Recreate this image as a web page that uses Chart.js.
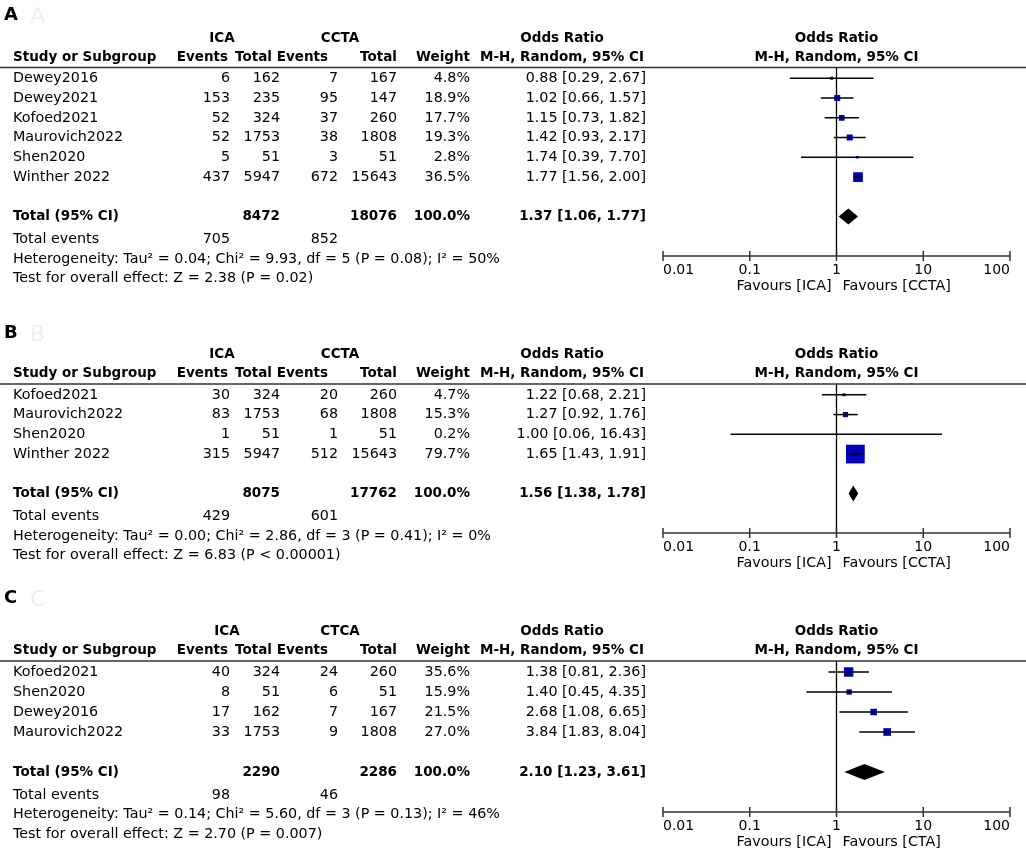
<!DOCTYPE html>
<html>
<head>
<meta charset="utf-8">
<script src="https://cdn.jsdelivr.net/npm/chart.js@4.4.0/dist/chart.umd.min.js"></script>
<style>
  body { margin: 0; background: #fff; width: 1026px; height: 851px; position: relative; overflow: hidden; }
  canvas { position: absolute; left: 0; }
</style>
</head>
<body>
<canvas id="panelA" width="1026" height="318" style="top:0px"></canvas>
<canvas id="panelB" width="1026" height="265" style="top:318px"></canvas>
<canvas id="panelC" width="1026" height="268" style="top:583px"></canvas>
<script>
// axis ticks shared by the three plots
const xTicks = [0.01, 0.1, 1, 10, 100];

// A
const studiesA = ["Dewey2016", "Dewey2021", "Kofoed2021", "Maurovich2022", "Shen2020", "Winther 2022"];
const icaEventsA = [6, 153, 52, 52, 5, 437];
const icaTotalA = [162, 235, 324, 1753, 51, 5947];
const ctEventsA = [7, 95, 37, 38, 3, 672];
const ctTotalA = [167, 147, 260, 1808, 51, 15643];
const weightA = [4.8, 18.9, 17.7, 19.3, 2.8, 36.5];
const orA = [0.88, 1.02, 1.15, 1.42, 1.74, 1.77];
const lowA = [0.29, 0.66, 0.73, 0.93, 0.39, 1.56];
const highA = [2.67, 1.57, 1.82, 2.17, 7.70, 2.00];
const sumTotalsA = [8472, 18076];
const sumEventsA = [705, 852];
const pooledA = [1.37, 1.06, 1.77];
const hetA = "Heterogeneity: Tau² = 0.04; Chi² = 9.93, df = 5 (P = 0.08); I² = 50%";
const testA = "Test for overall effect: Z = 2.38 (P = 0.02)";

// B
const studiesB = ["Kofoed2021", "Maurovich2022", "Shen2020", "Winther 2022"];
const icaEventsB = [30, 83, 1, 315];
const icaTotalB = [324, 1753, 51, 5947];
const ctEventsB = [20, 68, 1, 512];
const ctTotalB = [260, 1808, 51, 15643];
const weightB = [4.7, 15.3, 0.2, 79.7];
const orB = [1.22, 1.27, 1.00, 1.65];
const lowB = [0.68, 0.92, 0.06, 1.43];
const highB = [2.21, 1.76, 16.43, 1.91];
const sumTotalsB = [8075, 17762];
const sumEventsB = [429, 601];
const pooledB = [1.56, 1.38, 1.78];
const hetB = "Heterogeneity: Tau² = 0.00; Chi² = 2.86, df = 3 (P = 0.41); I² = 0%";
const testB = "Test for overall effect: Z = 6.83 (P < 0.00001)";

// C
const studiesC = ["Kofoed2021", "Shen2020", "Dewey2016", "Maurovich2022"];
const icaEventsC = [40, 8, 17, 33];
const icaTotalC = [324, 51, 162, 1753];
const ctEventsC = [24, 6, 7, 9];
const ctTotalC = [260, 51, 167, 1808];
const weightC = [35.6, 15.9, 21.5, 27.0];
const orC = [1.38, 1.40, 2.68, 3.84];
const lowC = [0.81, 0.45, 1.08, 1.83];
const highC = [2.36, 4.35, 6.65, 8.04];
const sumTotalsC = [2290, 2286];
const sumEventsC = [98, 46];
const pooledC = [2.10, 1.23, 3.61];
const hetC = "Heterogeneity: Tau² = 0.14; Chi² = 5.60, df = 3 (P = 0.13); I² = 46%";
const testC = "Test for overall effect: Z = 2.70 (P = 0.007)";

const FONT = '"DejaVu Sans", sans-serif';
const INK = "#000";
// right edges of the table columns
const col = { study: 13, icaEv: 230, icaTot: 280, ctEv: 338, ctTot: 397, weight: 470, ci: 646 };

function ciText(o, l, h) {
  return o.toFixed(2) + " [" + l.toFixed(2) + ", " + h.toFixed(2) + "]";
}

function txt(ctx, s, x, y, align, bold, size) {
  ctx.font = (bold ? "bold " : "") + (size || 14.3) + "px " + FONT;
  ctx.textAlign = align;
  ctx.textBaseline = "middle";
  ctx.fillStyle = INK;
  ctx.fillText(s, x, y);
}

function forestPlugin(p) {
  return {
    id: "forest" + p.label,
    beforeDatasetsDraw(chart) {
      const ctx = chart.ctx, xs = chart.scales.x, area = chart.chartArea;
      ctx.save();
      // line under the header
      ctx.strokeStyle = "#333";
      ctx.lineWidth = 1.5;
      ctx.beginPath();
      ctx.moveTo(0, area.top);
      ctx.lineTo(chart.width, area.top);
      ctx.stroke();
      // no-effect line
      const x1 = xs.getPixelForValue(1);
      ctx.strokeStyle = "#000";
      ctx.lineWidth = 1.3;
      ctx.beginPath();
      ctx.moveTo(x1, area.top);
      ctx.lineTo(x1, area.bottom);
      ctx.stroke();
      // axis with ticks crossing it
      ctx.strokeStyle = "#333";
      ctx.lineWidth = 1.5;
      ctx.beginPath();
      ctx.moveTo(xs.getPixelForValue(xTicks[0]), area.bottom);
      ctx.lineTo(xs.getPixelForValue(xTicks[xTicks.length - 1]), area.bottom);
      xTicks.forEach(v => {
        const px = xs.getPixelForValue(v);
        ctx.moveTo(px, area.bottom - 5);
        ctx.lineTo(px, area.bottom + 5);
      });
      ctx.stroke();
      ctx.restore();
    },
    afterDraw(chart) {
      const ctx = chart.ctx, xs = chart.scales.x, ys = chart.scales.y, area = chart.chartArea;
      const n = p.studies.length;
      const L = area.top;
      ctx.save();
      // panel letter
      txt(ctx, p.label, 4, L + p.labelOff, "left", true, 18);
      ctx.font = "22px " + FONT;
      ctx.fillStyle = "#efefef";
      ctx.textAlign = "left";
      ctx.fillText(p.label, 30, L + p.labelOff + 2);

      // headers
      const h1 = L - 29.5, h2 = L - 10.5;
      const hb = 13.5;
      txt(ctx, "ICA", p.icaHead, h1, "center", true, hb);
      txt(ctx, p.ctName, 340, h1, "center", true, hb);
      txt(ctx, "Odds Ratio", 562, h1, "center", true, hb);
      txt(ctx, "Odds Ratio", xs.getPixelForValue(1), h1, "center", true, hb);
      txt(ctx, "Study or Subgroup", col.study, h2, "left", true, hb);
      txt(ctx, "Events", 228, h2, "right", true, hb);
      txt(ctx, "Total", 272, h2, "right", true, hb);
      txt(ctx, "Events", 328, h2, "right", true, hb);
      txt(ctx, "Total", 397, h2, "right", true, hb);
      txt(ctx, "Weight", 470, h2, "right", true, hb);
      txt(ctx, "M-H, Random, 95% CI", 644, h2, "right", true, hb);
      txt(ctx, "M-H, Random, 95% CI", xs.getPixelForValue(1), h2, "center", true, hb);

      // study rows
      p.studies.forEach((s, i) => {
        const y = ys.getPixelForValue(i);
        txt(ctx, s, col.study, y, "left");
        txt(ctx, String(p.icaEv[i]), col.icaEv, y, "right");
        txt(ctx, String(p.icaTot[i]), col.icaTot, y, "right");
        txt(ctx, String(p.ctEv[i]), col.ctEv, y, "right");
        txt(ctx, String(p.ctTot[i]), col.ctTot, y, "right");
        txt(ctx, p.weight[i].toFixed(1) + "%", col.weight, y, "right");
        txt(ctx, ciText(p.or[i], p.low[i], p.high[i]), col.ci, y, "right");
      });

      // pooled row
      const T = ys.getPixelForValue(n + 1);
      txt(ctx, "Total (95% CI)", col.study, T, "left", true, hb);
      txt(ctx, String(p.sumTotals[0]), col.icaTot, T, "right", true, hb);
      txt(ctx, String(p.sumTotals[1]), col.ctTot, T, "right", true, hb);
      txt(ctx, "100.0%", col.weight, T, "right", true, hb);
      txt(ctx, ciText(p.pooled[0], p.pooled[1], p.pooled[2]), col.ci, T, "right", true, hb);
      txt(ctx, "Total events", col.study, T + 23, "left");
      txt(ctx, String(p.sumEvents[0]), col.icaEv, T + 23, "right");
      txt(ctx, String(p.sumEvents[1]), col.ctEv, T + 23, "right");
      txt(ctx, p.het, col.study, T + 42.5, "left");
      txt(ctx, p.test, col.study, T + 62, "left");

      // pooled diamond
      const dl = xs.getPixelForValue(p.pooled[1]);
      const dm = xs.getPixelForValue(p.pooled[0]);
      const dr = xs.getPixelForValue(p.pooled[2]);
      ctx.fillStyle = "#000";
      ctx.beginPath();
      ctx.moveTo(dl, T);
      ctx.lineTo(dm, T - 8);
      ctx.lineTo(dr, T);
      ctx.lineTo(dm, T + 8);
      ctx.closePath();
      ctx.fill();

      // favours captions
      const x1 = xs.getPixelForValue(1);
      txt(ctx, "Favours [ICA]", x1 - 5, area.bottom + 30, "right");
      txt(ctx, "Favours [" + p.favName + "]", x1 + 6, area.bottom + 30, "left");
      ctx.restore();
    }
  };
}

function drawPanel(id, p) {
  const n = p.studies.length;
  const datasets = p.studies.map((s, i) => ({
    data: [{ x: p.low[i], y: i }, { x: p.high[i], y: i }],
    showLine: true,
    borderColor: "#000",
    borderWidth: 1.5,
    pointRadius: 0
  }));
  datasets.push({
    data: p.or.map((v, i) => ({ x: v, y: i })),
    pointStyle: "rect",
    pointRadius: p.weight.map(w => (2 + 0.21 * w) / Math.SQRT2),
    backgroundColor: "#0000bb",
    borderWidth: 0
  });

  new Chart(document.getElementById(id), {
    type: "scatter",
    data: { datasets: datasets },
    options: {
      responsive: false,
      animation: false,
      devicePixelRatio: 1,
      layout: { padding: { left: 663, right: 16, top: p.padTop, bottom: p.padBottom } },
      plugins: { legend: { display: false }, tooltip: { enabled: false } },
      scales: {
        x: {
          type: "logarithmic",
          min: 0.01,
          max: 100,
          afterBuildTicks: s => { s.ticks = xTicks.map(v => ({ value: v })); },
          afterFit: s => { s.height = 36; },
          grid: { display: false, drawTicks: false },
          border: { display: false },
          ticks: {
            align: "inner",
            padding: 6,
            autoSkip: false,
            maxRotation: 0,
            color: INK,
            font: { family: FONT, size: 14 },
            callback: v => String(v)
          }
        },
        y: { type: "linear", reverse: true, min: -0.55, max: n + 3, display: false }
      }
    },
    plugins: [forestPlugin(p)]
  });
}

drawPanel("panelA", {
  label: "A", labelOff: -52.5, padTop: 67.5, padBottom: 26, icaHead: 222, ctName: "CCTA", favName: "CCTA",
  studies: studiesA, icaEv: icaEventsA, icaTot: icaTotalA, ctEv: ctEventsA, ctTot: ctTotalA,
  weight: weightA, or: orA, low: lowA, high: highA,
  sumTotals: sumTotalsA, sumEvents: sumEventsA, pooled: pooledA, het: hetA, test: testA
});
drawPanel("panelB", {
  label: "B", labelOff: -51, padTop: 66, padBottom: 14, icaHead: 222, ctName: "CCTA", favName: "CCTA",
  studies: studiesB, icaEv: icaEventsB, icaTot: icaTotalB, ctEv: ctEventsB, ctTot: ctTotalB,
  weight: weightB, or: orB, low: lowB, high: highB,
  sumTotals: sumTotalsB, sumEvents: sumEventsB, pooled: pooledB, het: hetB, test: testB
});
drawPanel("panelC", {
  label: "C", labelOff: -63, padTop: 78, padBottom: 3, icaHead: 227, ctName: "CTCA", favName: "CTA",
  studies: studiesC, icaEv: icaEventsC, icaTot: icaTotalC, ctEv: ctEventsC, ctTot: ctTotalC,
  weight: weightC, or: orC, low: lowC, high: highC,
  sumTotals: sumTotalsC, sumEvents: sumEventsC, pooled: pooledC, het: hetC, test: testC
});
</script>
</body>
</html>
